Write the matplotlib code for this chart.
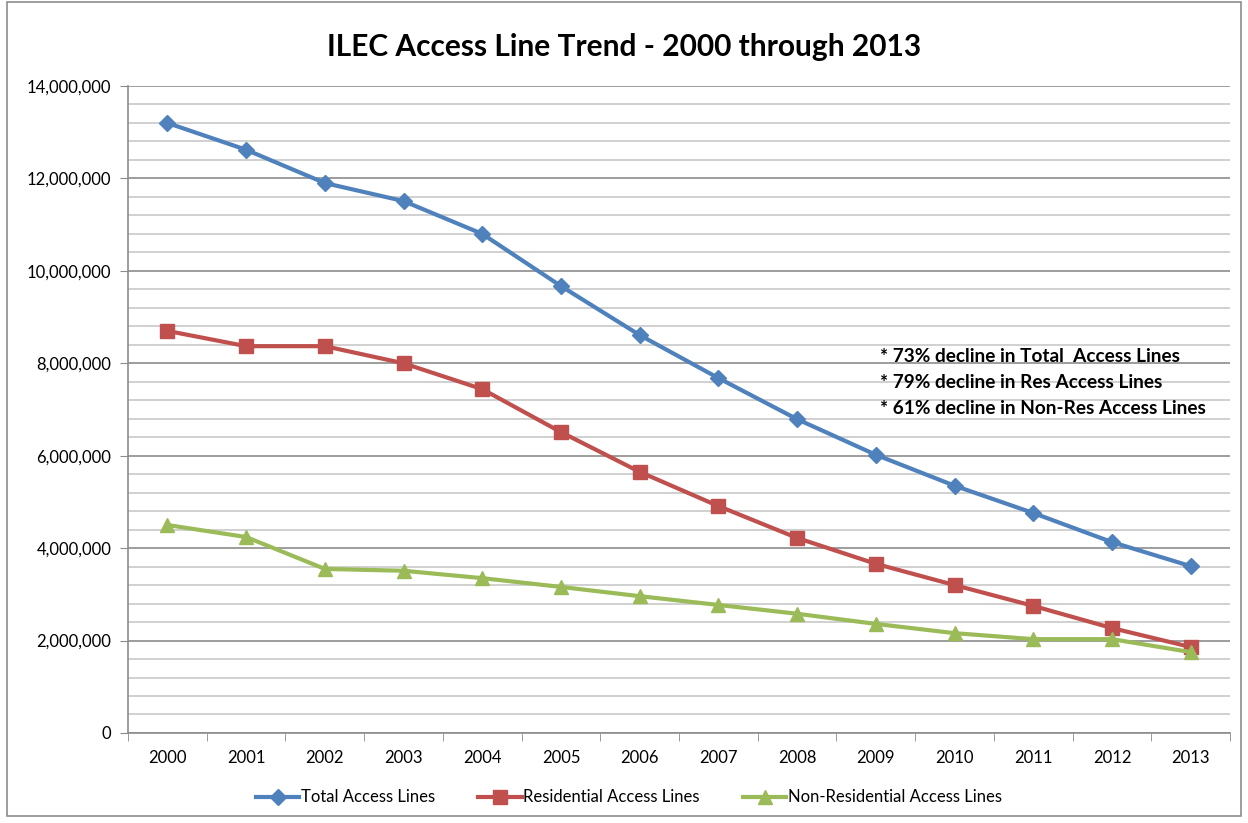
import matplotlib.pyplot as plt
import numpy as np
from matplotlib.ticker import FuncFormatter, MultipleLocator
from matplotlib.patches import Rectangle

plt.rcParams['font.family'] = ['Lato', 'DejaVu Sans']

years = ['2000', '2001', '2002', '2003', '2004', '2005', '2006',
         '2007', '2008', '2009', '2010', '2011', '2012', '2013']
total = [13.20, 12.62, 11.90, 11.51, 10.80, 9.67, 8.61,
         7.68, 6.79, 6.02, 5.35, 4.76, 4.13, 3.61]
residential = [8.70, 8.37, 8.37, 8.00, 7.44, 6.51, 5.65,
               4.91, 4.22, 3.66, 3.20, 2.75, 2.27, 1.86]
non_residential = [4.50, 4.24, 3.55, 3.51, 3.35, 3.16, 2.96,
                   2.77, 2.58, 2.36, 2.16, 2.03, 2.03, 1.75]
notes = ['* 73% decline in Total  Access Lines',
         '* 79% decline in Res Access Lines',
         '* 61% decline in Non-Res Access Lines']

total = np.array(total) * 1e6
residential = np.array(residential) * 1e6
non_residential = np.array(non_residential) * 1e6

fig = plt.figure(figsize=(12.48, 8.23), dpi=100)
ax = fig.add_axes([0.1026, 0.1094, 0.8830, 0.7861])

x = np.arange(len(years))
ax.plot(x, total, color='#4F81BD', lw=3, marker='D', ms=8, label='Total Access Lines')
ax.plot(x, residential, color='#C0504D', lw=3, marker='s', ms=10, label='Residential Access Lines')
ax.plot(x, non_residential, color='#9BBB59', lw=3, marker='^', ms=10, label='Non-Residential Access Lines')

ax.set_xlim(-0.5, len(years) - 0.5)
ax.set_ylim(0, 14e6)
ax.yaxis.set_major_locator(MultipleLocator(2e6))
ax.yaxis.set_minor_locator(MultipleLocator(4e5))
ax.yaxis.set_major_formatter(FuncFormatter(lambda v, p: f'{int(v):,}'))
ax.grid(axis='y', which='minor', color='#C8C8C8', lw=1.2)
ax.grid(axis='y', which='major', color='#8C8C8C', lw=1.2)
ax.set_axisbelow(True)

ax.set_xticks(x)
ax.set_xticklabels(years)
ax.set_xticks(np.arange(-0.5, len(years)), minor=True)
ax.tick_params(axis='x', which='major', length=0, pad=12, labelsize=12)
ax.tick_params(axis='x', which='minor', length=6, color='#8C8C8C')
ax.tick_params(axis='y', which='major', length=6, color='#8C8C8C', labelsize=12, pad=6)
ax.tick_params(axis='y', which='minor', length=0)

for s in ['top', 'right']:
    ax.spines[s].set_visible(False)
for s in ['left', 'bottom']:
    ax.spines[s].set_color('#8C8C8C')
    ax.spines[s].set_linewidth(1.2)

fig.suptitle('ILEC Access Line Trend - 2000 through 2013', fontsize=21.5,
             fontweight='bold', y=0.96)

for i, t in enumerate(notes):
    ax.text(9.05, 8.14e6 - i * 0.56e6, t, fontsize=13.7, fontweight='bold',
            ha='left', va='center')

fig.legend(loc='center', bbox_to_anchor=(0.504, 0.031), ncol=3, frameon=False,
           fontsize=12, handlelength=2.6, handletextpad=0.1, columnspacing=2.6)

fig.patches.append(Rectangle((0.006, 0.008), 0.988, 0.99, transform=fig.transFigure,
                             fill=False, edgecolor='#8C8C8C', lw=1.2))

fig.savefig('out.png', dpi=100)
